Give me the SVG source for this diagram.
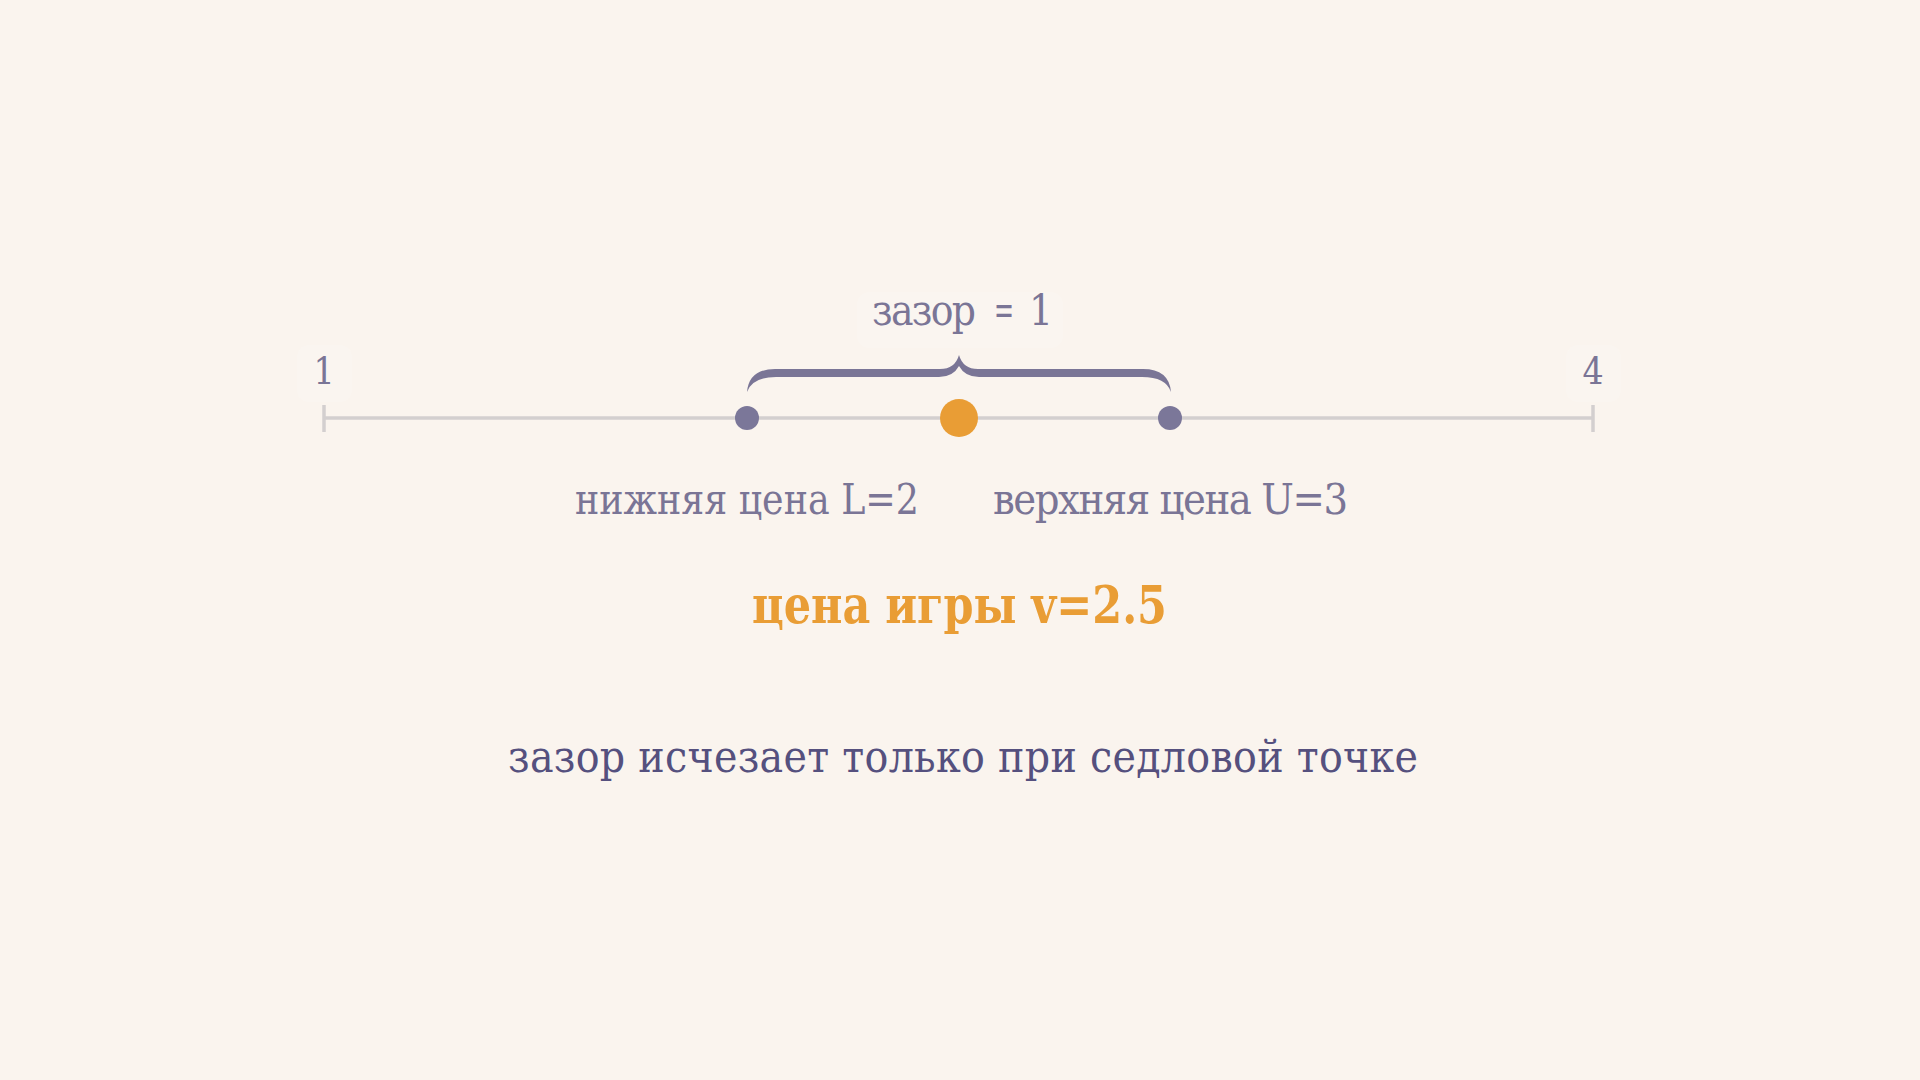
<svg xmlns="http://www.w3.org/2000/svg" width="1920" height="1080" viewBox="0 0 1920 1080">
<style>
text{font-family:"DejaVu Serif Condensed","DejaVu Serif","Liberation Serif",serif;font-stretch:condensed;}
.lbl{fill:#7a7596;}
.halo{fill:#ffffff;fill-opacity:0.14;}
.dot{fill:#7b7799;}
</style>
<rect width="1920" height="1080" fill="#faf4ee"/>
<g id="axis">
<line x1="324" y1="418" x2="1593" y2="418" stroke="#d3cfcf" stroke-width="3.5"/>
<line x1="324" y1="405" x2="324" y2="432" stroke="#d3cfcf" stroke-width="3.5"/>
<line x1="1593" y1="405" x2="1593" y2="432" stroke="#d3cfcf" stroke-width="3.5"/>
</g>
<g id="tick-1">
<rect class="halo" x="297" y="345" width="55" height="57" rx="12"/>
<text class="lbl" x="324" y="384" font-size="37" text-anchor="middle">1</text>
</g>
<g id="tick-4">
<rect class="halo" x="1566" y="345" width="55" height="57" rx="12"/>
<text class="lbl" x="1593" y="384" font-size="37" text-anchor="middle">4</text>
</g>
<g id="gap-brace">
<path d="M747,392 Q749,369 775,369 L940,369 Q955,369 959,355 Q963,369 978,369 L1143,369 Q1169,369 1171,392 Q1166,377 1142,377 L979,377 Q965,377 959,366 Q953,377 939,377 L776,377 Q752,377 747,392 Z" fill="#7a7596"/>
<rect class="halo" x="857" y="292" width="206" height="56" rx="12"/>
<text class="lbl" y="325" font-size="42"><tspan x="872" textLength="104" lengthAdjust="spacing">зазор</tspan> <tspan x="994" textLength="20" lengthAdjust="spacingAndGlyphs">=</tspan> <tspan x="1029">1</tspan></text>
</g>
<g id="lower">
<circle class="dot" cx="747" cy="418" r="12"/>
<text class="lbl" x="575" y="514" font-size="43" textLength="344" lengthAdjust="spacingAndGlyphs">нижняя цена L=2</text>
</g>
<g id="upper">
<circle class="dot" cx="1170" cy="418" r="12"/>
<text class="lbl" x="993" y="514" font-size="43" textLength="355" lengthAdjust="spacing">верхняя цена U=3</text>
</g>
<g id="value">
<circle cx="959" cy="418" r="19" fill="#e99d35"/>
<text x="752" y="623" font-weight="bold" font-size="52" fill="#e99d35" textLength="415" lengthAdjust="spacingAndGlyphs">цена игры v=2.5</text>
</g>
<g id="note">
<text x="508" y="772" font-size="44" fill="#55507e" textLength="910" lengthAdjust="spacing">зазор исчезает только при седловой точке</text>
</g>
</svg>
